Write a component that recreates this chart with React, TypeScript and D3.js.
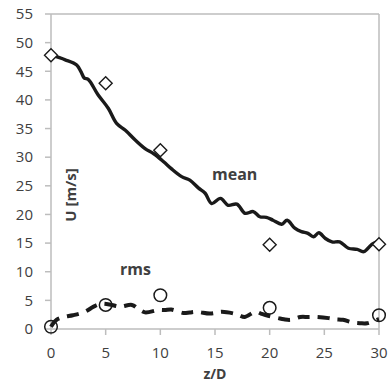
import React from 'react'
import * as d3 from 'd3'

// mean velocity along the axis
const meanZ = [0, 1.3, 2.35, 2.75, 3.05, 3.4, 4.3, 5.25, 6.0, 6.8, 7.7, 8.6, 9.4, 10.3, 11.0, 11.95, 12.7, 13.5, 14.1, 14.7, 15.5, 16.2, 17.0, 17.75, 18.5, 19.1, 19.7, 20.3, 21.1, 21.6, 22.3, 22.9, 23.5, 24.0, 24.5, 25.1, 25.7, 26.4, 27.2, 28.0, 28.6, 29.3, 29.8, 30]
const meanU = [47.8, 47.0, 46.1, 44.9, 43.8, 43.6, 40.9, 38.5, 35.9, 34.7, 33.0, 31.5, 30.6, 29.2, 28.0, 26.6, 26.0, 24.6, 23.7, 21.9, 22.8, 21.6, 21.8, 20.2, 20.5, 19.6, 19.5, 19.0, 18.3, 19.0, 17.6, 17.0, 16.7, 16.1, 16.8, 15.8, 15.2, 15.2, 14.1, 13.9, 13.5, 14.7, 15.2, 14.8]

// rms trace
const rmsZ = [0, 0.5, 1.2, 2.0, 3.1, 3.9, 4.6, 5.55, 6.3, 7.4, 8.0, 8.6, 9.8, 10.4, 11.0, 12.1, 12.7, 13.3, 14.5, 15.0, 15.6, 16.7, 17.2, 17.7, 18.7, 19.2, 19.7, 20.8, 21.3, 21.9, 22.8, 23.5, 24.3, 25.4, 26.0, 26.7, 27.7, 28.3, 28.9, 29.8, 30]
const rmsU = [0.4, 1.6, 2.1, 2.4, 3.0, 3.9, 4.4, 4.2, 3.9, 4.2, 3.5, 2.9, 3.3, 3.3, 3.4, 2.8, 2.9, 3.0, 2.7, 2.8, 3.0, 2.7, 2.4, 2.1, 3.0, 2.7, 2.4, 1.9, 1.7, 1.6, 2.1, 2.1, 2.1, 1.9, 1.7, 1.6, 1.1, 1.0, 1.0, 1.6, 1.7]

// measured points
const pointZ = [0, 5, 10, 20, 30]
const pointMean = [47.8, 42.9, 31.2, 14.7, 14.8]
const pointRms = [0.4, 4.2, 5.9, 3.7, 2.4]

const xTicks = [0, 5, 10, 15, 20, 25, 30]
const yTicks = [0, 5, 10, 15, 20, 25, 30, 35, 40, 45, 50, 55]

const W = 390
const H = 385
const margin = { top: 14, right: 11, bottom: 56, left: 51 }
const font = "'Open Sans', sans-serif"

const App: React.FC = () => {
  const x = d3.scaleLinear().domain([0, 30]).range([margin.left, W - margin.right])
  const y = d3.scaleLinear().domain([0, 55]).range([H - margin.bottom, margin.top])

  const line = d3.line<[number, number]>()
    .x(d => x(d[0]))
    .y(d => y(d[1]))
    .curve(d3.curveCatmullRom)

  const meanPath = line(meanZ.map((z, i) => [z, meanU[i]] as [number, number])) || ''
  const rmsPath = line(rmsZ.map((z, i) => [z, rmsU[i]] as [number, number])) || ''

  const axisColor = '#bdbdbd'
  const textColor = '#404040'
  const x0 = x(0), x1 = x(30), y0 = y(0), y1 = y(55)

  return (
    <svg width={W} height={H} style={{ position: 'absolute', left: 0, top: 0 }} fontFamily={font}>
      <rect x={0} y={0} width={W} height={H} fill="#fff" />
      {/* frame */}
      <line x1={x0} x2={x1} y1={y1} y2={y1} stroke={axisColor} strokeWidth={1.5} />
      <line x1={x1} x2={x1} y1={y1} y2={y0} stroke={axisColor} strokeWidth={1.5} />
      <line x1={x0} x2={x0} y1={y1} y2={y0} stroke={axisColor} strokeWidth={1.5} />
      <line x1={x0} x2={x1} y1={y0} y2={y0} stroke={axisColor} strokeWidth={1.5} />

      {yTicks.map(t => (
        <g key={'y' + t}>
          <line x1={x0 - 6} x2={x0} y1={y(t)} y2={y(t)} stroke={axisColor} strokeWidth={1.5} />
          <text x={33} y={y(t)} dy="0.35em" textAnchor="end" fontSize={15} fill={textColor}>{t}</text>
        </g>
      ))}
      {xTicks.map(t => (
        <g key={'x' + t}>
          <line x1={x(t)} x2={x(t)} y1={y0} y2={y0 + 6} stroke={axisColor} strokeWidth={1.5} />
          <text x={x(t)} y={358} textAnchor="middle" fontSize={15} fill={textColor}>{t}</text>
        </g>
      ))}

      <text x={(x0 + x1) / 2} y={379} textAnchor="middle" fontSize={14} fontWeight="bold" fill={textColor}>z/D</text>
      <text transform={`translate(76,195) rotate(-90)`} textAnchor="middle" fontSize={15} fontWeight="bold" fill={textColor}>U [m/s]</text>

      <path d={meanPath} fill="none" stroke="#1a1a1a" strokeWidth={3.4} strokeLinejoin="round" />
      <path d={rmsPath} fill="none" stroke="#1a1a1a" strokeWidth={4} strokeDasharray="12,8" />

      {pointZ.map((z, i) => {
        const cx = x(z), cy = y(pointMean[i]), r = 6.5
        return (
          <path key={'d' + i} d={`M${cx},${cy - r}L${cx + r},${cy}L${cx},${cy + r}L${cx - r},${cy}Z`}
            fill="#fff" stroke="#1a1a1a" strokeWidth={1.4} />
        )
      })}
      {pointZ.map((z, i) => (
        <circle key={'c' + i} cx={x(z)} cy={y(pointRms[i])} r={6.3} fill="none" stroke="#1a1a1a" strokeWidth={1.5} />
      ))}

      <text x={212} y={180} fontSize={16} fontWeight="bold" fill={textColor}>mean</text>
      <text x={120} y={275} fontSize={16} fontWeight="bold" fill={textColor}>rms</text>
    </svg>
  )
}

export default App
